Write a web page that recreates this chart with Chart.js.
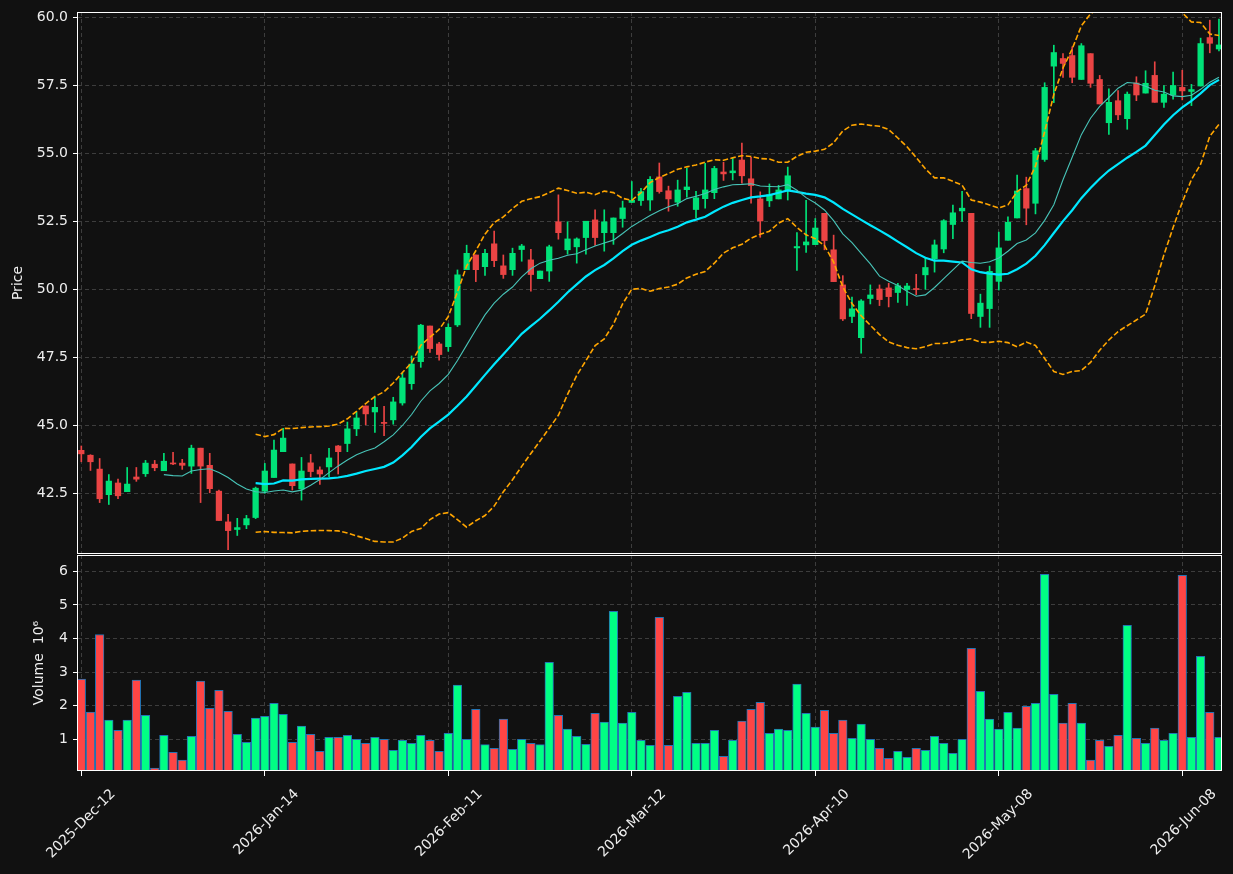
<!DOCTYPE html>
<html><head><meta charset="utf-8">
<script src="https://cdn.jsdelivr.net/npm/chart.js@4.4.1/dist/chart.umd.min.js"></script>
<style>
html,body{margin:0;padding:0;background:#111111;}
#wrap{position:relative;width:1233px;height:874px;background:#111111;overflow:hidden;}
#c1{position:absolute;left:0;top:0;}
#c2{position:absolute;left:0;top:554px;}
</style></head><body>
<div id="wrap"><canvas id="c1" width="1233" height="554"></canvas><canvas id="c2" width="1233" height="320"></canvas></div>
<script>
// ---- data ----
const opens = [44.08,43.90,43.39,42.45,42.88,42.56,43.10,43.22,43.57,43.33,43.61,43.61,43.50,44.16,43.53,42.58,41.45,41.17,41.34,41.61,
42.58,43.08,44.03,43.58,42.66,43.62,43.36,43.47,44.24,44.33,44.87,45.71,45.49,45.09,45.20,45.82,46.53,47.34,48.65,47.99,
47.89,48.69,50.72,51.26,50.83,51.67,50.86,50.72,51.46,51.08,50.39,50.67,52.48,51.45,51.56,51.90,52.55,52.08,52.08,52.60,
53.19,53.26,53.28,54.13,53.62,53.20,53.66,52.93,53.33,53.55,54.31,54.28,54.75,54.06,53.32,53.25,53.32,53.65,51.52,51.63,
51.64,52.79,51.45,50.16,49.00,48.22,49.66,50.01,50.05,49.88,49.99,50.01,50.53,51.12,51.48,52.38,52.88,52.79,49.00,49.29,
50.29,51.80,52.62,53.70,53.16,54.77,58.20,58.48,58.59,57.71,58.66,57.71,56.12,56.93,56.27,57.58,57.21,57.86,56.87,57.14,
57.42,57.27,57.47,59.25,58.83];
const highs = [44.24,43.92,43.78,43.19,43.02,43.45,43.45,43.71,43.71,43.97,44.01,43.75,44.27,44.16,43.97,42.62,41.73,41.58,41.69,42.73,
43.60,44.46,44.89,43.58,43.82,43.93,43.47,44.15,44.26,45.12,45.49,45.71,46.03,45.70,46.03,46.91,47.55,48.71,48.65,48.05,
48.73,50.71,51.62,51.26,51.47,52.14,51.26,51.51,51.65,51.47,50.67,51.62,53.47,52.48,51.89,52.50,52.92,52.92,52.62,53.24,
53.96,53.71,54.14,54.64,53.79,54.01,54.44,53.60,54.63,54.52,54.67,54.83,55.37,54.85,53.58,53.87,53.82,54.49,52.08,53.27,
52.60,52.79,51.99,50.50,49.71,49.62,50.16,50.16,50.22,50.22,50.22,50.55,51.16,51.81,52.56,53.09,53.60,52.79,49.82,50.85,
52.10,52.66,54.20,54.12,55.18,57.59,58.97,58.66,58.91,59.03,58.66,57.86,57.37,57.30,57.25,57.81,58.03,58.36,57.49,57.98,
58.05,57.53,59.23,59.89,59.93];
const lows = [43.66,43.34,42.16,42.09,42.30,42.56,42.94,43.12,43.33,43.33,43.55,43.38,43.23,42.16,42.52,41.50,40.43,40.95,41.20,41.57,
42.50,43.08,44.03,42.62,42.25,43.11,42.83,43.11,43.21,44.03,44.62,45.02,44.74,44.62,45.04,45.74,46.32,47.13,47.68,47.39,
47.72,48.63,50.72,50.28,50.51,50.83,50.40,50.51,51.03,49.93,50.39,50.29,51.84,51.29,50.96,51.29,51.61,51.40,51.65,52.28,
53.19,53.08,52.90,53.53,52.87,53.05,53.38,52.63,52.98,53.33,54.00,54.02,53.90,53.16,51.91,53.04,53.32,53.28,50.69,51.35,
51.64,51.45,50.28,48.85,48.77,47.65,49.46,49.40,49.35,49.52,49.41,49.80,50.00,50.63,51.34,51.86,52.49,48.92,48.60,48.60,
49.97,51.80,52.62,52.37,52.77,54.70,56.86,57.79,57.59,57.71,57.42,56.81,55.69,56.23,55.88,56.93,57.21,56.87,56.68,56.99,
56.96,56.75,57.47,58.69,58.76];
const closes = [43.95,43.66,42.30,42.95,42.41,42.84,43.02,43.61,43.44,43.68,43.58,43.53,44.16,43.50,42.67,41.50,41.13,41.24,41.57,42.69,
43.32,44.09,44.53,42.78,43.32,43.30,43.21,43.80,44.03,44.87,45.27,45.42,45.66,45.07,45.86,46.74,47.25,48.68,47.82,47.60,
48.60,50.53,51.32,50.72,51.32,51.05,50.54,51.32,51.59,50.54,50.67,51.56,52.08,51.85,51.85,52.50,51.90,52.48,52.62,52.99,
53.27,53.59,54.04,53.59,53.32,53.65,53.76,53.36,53.65,54.44,54.24,54.35,54.17,53.81,52.51,53.47,53.65,54.17,51.57,51.74,
52.25,51.79,50.28,48.91,49.28,49.57,49.79,49.62,49.73,50.13,50.12,49.99,50.80,51.63,52.52,52.81,52.98,49.11,49.49,50.66,
51.52,52.46,53.61,52.98,55.09,57.42,58.70,58.30,57.79,58.95,57.57,56.81,56.87,56.41,57.17,57.14,57.57,56.87,57.17,57.49,
57.29,57.34,59.03,59.04,58.98];
// volume in units of 10^6
const volumes = [2.79,1.81,4.12,1.57,1.27,1.57,2.76,1.71,0.14,1.12,0.61,0.38,1.09,2.73,1.92,2.46,1.83,1.15,0.91,1.63,
1.68,2.07,1.74,0.91,1.39,1.15,0.64,1.06,1.06,1.12,1.00,0.88,1.06,1.00,0.67,0.97,0.88,1.12,0.97,0.64,
1.18,2.61,1.00,1.89,0.84,0.73,1.60,0.70,1.00,0.88,0.84,3.29,1.71,1.30,1.09,0.85,1.77,1.51,4.81,1.48,
1.80,0.97,0.82,4.63,0.82,2.28,2.40,0.88,0.88,1.27,0.49,0.97,1.54,1.89,2.10,1.18,1.30,1.27,2.64,1.77,
1.36,1.86,1.18,1.57,1.03,1.45,1.00,0.73,0.43,0.64,0.46,0.73,0.67,1.09,0.88,0.58,1.00,3.71,2.43,1.60,
1.30,1.80,1.33,1.98,2.07,5.91,2.34,1.48,2.07,1.48,0.38,0.97,0.79,1.12,4.39,1.03,0.88,1.33,0.97,1.18,
5.88,1.06,3.47,1.80,1.06];
const tickPositions = [0,20,40,60,80,100,120];
const tickLabels = ['2025-Dec-12','2026-Jan-14','2026-Feb-11','2026-Mar-12','2026-Apr-10','2026-May-08','2026-Jun-08'];
const priceTicks = [42.5,45,47.5,50,52.5,55,57.5,60];
const volumeTicks = [1,2,3,4,5,6];

// ---- derived (indicators computed from the closes, as in the source) ----
const idx = closes.map((_, i) => i);
function sma(arr, n) {
  const out = [];
  for (let i = n - 1; i < arr.length; i++) {
    let s = 0; for (let j = i - n + 1; j <= i; j++) s += arr[j];
    out.push({x: i, y: s / n});
  }
  return out;
}
function bands(arr, n, k) {
  const up = [], lo = [];
  for (let i = n - 1; i < arr.length; i++) {
    let s = 0; for (let j = i - n + 1; j <= i; j++) s += arr[j];
    const m = s / n;
    let v = 0; for (let j = i - n + 1; j <= i; j++) v += (arr[j] - m) * (arr[j] - m);
    const sd = Math.sqrt(v / n);
    up.push({x: i, y: m + k * sd}); lo.push({x: i, y: m - k * sd});
  }
  return [up, lo];
}
const ma10 = sma(closes, 10);
const ma20 = sma(closes, 20);
const [bbUp, bbLo] = bands(closes, 20, 2);

const isUp = idx.map(i => closes[i] >= opens[i]);
const candleCol = isUp.map(u => u ? '#00e278' : '#ea4444');
const volCol = isUp.map(u => u ? '#00ff84' : '#ff4545');
const wickData = idx.map(i => ({x: i, y: [lows[i], highs[i]]}));
const bodyData = idx.map(i => ({x: i, y: [opens[i], closes[i]]}));
const volData = idx.map(i => ({x: i, y: volumes[i]}));

const X_MIN = -0.36, X_MAX = 124.33;
const GRID = '#3d3d3d';
const TXT = '#eeeeee';
const FONT = {family: 'DejaVu Sans', size: 14};

const framePlugin = {
  id: 'frame',
  afterDraw(chart) {
    const {ctx, chartArea: {left, top, right, bottom}} = chart;
    const l = Math.round(left) - 0.5, t = Math.round(top) + 0.5;
    const r = Math.round(right) - 0.5, b = Math.round(bottom) - 0.5;
    ctx.save();
    ctx.strokeStyle = '#ffffff';
    ctx.lineWidth = 1;
    ctx.strokeRect(l, t, r - l, b - t);
    ctx.restore();
  }
};
const setXTicks = s => { s.ticks = tickPositions.map(v => ({value: v})); };
const noPad = s => { s.paddingTop = 0; s.paddingBottom = 0; s.paddingLeft = 0; s.paddingRight = 0; };

new Chart(document.getElementById('c1'), {
  type: 'bar',
  data: {datasets: [
    {type: 'line', label: 'MA10', data: ma10, borderColor: '#48c4b8', borderWidth: 1.1, pointRadius: 0, tension: 0, order: 0},
    {type: 'line', label: 'MA20', data: ma20, borderColor: '#00e8ff', borderWidth: 2.2, pointRadius: 0, tension: 0, order: 0},
    {type: 'line', label: 'BB upper', data: bbUp, borderColor: '#ffa500', borderWidth: 1.6, borderDash: [5.5, 2.4], pointRadius: 0, tension: 0, order: 0},
    {type: 'line', label: 'BB lower', data: bbLo, borderColor: '#ffa500', borderWidth: 1.6, borderDash: [5.5, 2.4], pointRadius: 0, tension: 0, order: 0},
    {label: 'wick', data: wickData, backgroundColor: candleCol, barThickness: 1, grouped: false, order: 2, borderWidth: 0},
    {label: 'body', data: bodyData, backgroundColor: candleCol, barThickness: 5.6, grouped: false, order: 1, borderWidth: 0, minBarLength: 1}
  ]},
  options: {
    responsive: false, animation: false, devicePixelRatio: 1, events: [],
    layout: {padding: {top: 12, right: 11, left: 0, bottom: 0}},
    plugins: {legend: {display: false}, tooltip: {enabled: false}},
    scales: {
      x: {type: 'linear', min: X_MIN, max: X_MAX, offset: false,
        afterBuildTicks: setXTicks, afterFit: s => { s.height = 0; noPad(s); },
        ticks: {display: false},
        grid: {color: GRID, lineWidth: 1, offset: false, drawTicks: false},
        border: {display: false, dash: [4, 3]}},
      y: {type: 'linear', position: 'left', min: 40.27, max: 60.19,
        afterBuildTicks: s => { s.ticks = priceTicks.map(v => ({value: v})); },
        afterFit: s => { s.width = 78; noPad(s); },
        ticks: {color: TXT, font: FONT, padding: 5, callback: v => Number(v).toFixed(1)},
        grid: {color: GRID, lineWidth: 1, tickColor: '#ffffff', tickLength: 5, tickBorderDash: [], tickWidth: 1},
        border: {display: false, dash: [4, 3]},
        title: {display: true, text: 'Price', color: TXT, font: FONT, padding: {top: 9.6, bottom: 0}}}
    }
  },
  plugins: [framePlugin]
});

new Chart(document.getElementById('c2'), {
  type: 'bar',
  data: {datasets: [
    {label: 'Volume', data: volData, backgroundColor: volCol, borderColor: '#2374b4', borderWidth: 1, barThickness: 8.6, grouped: false, clip: 0}
  ]},
  options: {
    responsive: false, animation: false, devicePixelRatio: 1, events: [],
    layout: {padding: {top: 1, right: 11, left: 0, bottom: 0}},
    plugins: {legend: {display: false}, tooltip: {enabled: false}},
    scales: {
      x: {type: 'linear', min: X_MIN, max: X_MAX, offset: false,
        afterBuildTicks: setXTicks, afterFit: s => { s.height = 103; noPad(s); },
        ticks: {display: true, color: TXT, font: FONT, minRotation: 45, maxRotation: 45, autoSkip: false,
          labelOffset: 32, padding: 10,
          callback: v => { const k = tickPositions.indexOf(v); return k >= 0 ? tickLabels[k] : ''; }},
        grid: {color: GRID, lineWidth: 1, offset: false, tickColor: '#ffffff', tickLength: 5, tickBorderDash: [], tickWidth: 1},
        border: {display: false, dash: [4, 3]}},
      y: {type: 'linear', position: 'left', min: 0.056, max: 6.485,
        afterBuildTicks: s => { s.ticks = volumeTicks.map(v => ({value: v})); },
        afterFit: s => { s.width = 78; noPad(s); },
        ticks: {color: TXT, font: FONT, padding: 5, callback: v => String(v)},
        grid: {color: GRID, lineWidth: 1, tickColor: '#ffffff', tickLength: 5, tickBorderDash: [], tickWidth: 1},
        border: {display: false, dash: [4, 3]},
        title: {display: true, text: 'Volume  10\u2076', color: TXT, font: FONT, padding: {top: 31, bottom: 0}}}
    }
  },
  plugins: [framePlugin]
});
</script>
</body></html>
